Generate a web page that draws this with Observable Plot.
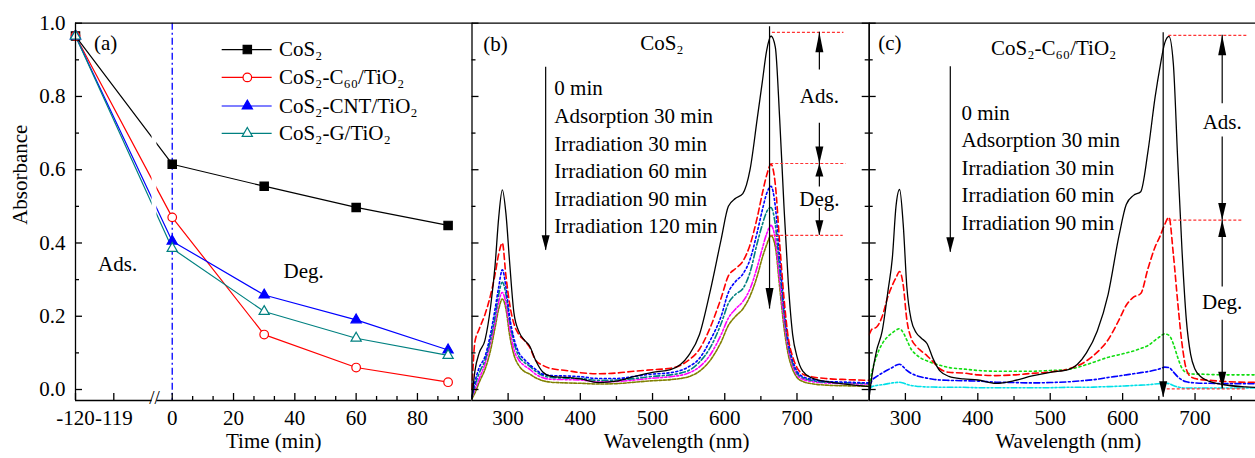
<!DOCTYPE html>
<html>
<head>
<meta charset="utf-8">
<script src="https://cdn.jsdelivr.net/npm/d3@7"></script>
<script src="https://cdn.jsdelivr.net/npm/@observablehq/plot@0.6"></script>
<style>
  html, body { margin: 0; padding: 0; background: #fff; overflow: hidden; }
  #wrap { position: relative; width: 1255px; height: 458px; background: #fff; }
  #wrap svg { position: absolute; left: 0; top: 0; }
</style>
</head>
<body>
<div id="wrap"></div>
<script>
// ---------------- DATA ----------------
// Panel (a): absorbance vs time
const times = [-120, 0, 30, 60, 90];
const aCoS2 = [0.965, 0.615, 0.555, 0.497, 0.448];
const aC60  = [0.965, 0.47, 0.15, 0.06, 0.02];
const aCNT  = [0.965, 0.405, 0.258, 0.19, 0.108];
const aG    = [0.965, 0.385, 0.213, 0.14, 0.093];
const aNames = ["CoS₂", "CoS₂-C₆₀/TiO₂", "CoS₂-CNT/TiO₂", "CoS₂-G/TiO₂"];
const aTicksMajor = [-120, -119, 0, 20, 40, 60, 80];
const aTicksMinor = [6.667, 13.333, 26.667, 33.333, 46.667, 53.333, 66.667, 73.333, 86.667, 93.333];
const breakFrom = -118, breakTo = -5;

// Panels (b), (c): spectra
const wl = [250, 254, 260, 268, 276, 282, 287, 292, 297, 302, 308, 315, 322, 330, 338, 348, 360, 380, 400, 425,
            450, 475, 500, 525, 550, 565, 580, 595, 605, 615, 625, 635, 645, 652, 658, 664, 670, 676, 682, 688,
            694, 700, 708, 720, 740, 770, 800];
const bBlack = [-0.025, 0.05, 0.10, 0.135, 0.23, 0.34, 0.47, 0.545, 0.48, 0.35,
                0.21, 0.158, 0.136, 0.118, 0.08, 0.048, 0.036, 0.033, 0.029, 0.019,
                0.023, 0.036, 0.047, 0.054, 0.093, 0.15, 0.27, 0.41, 0.50, 0.522,
                0.535, 0.6, 0.74, 0.84, 0.925, 0.965, 0.935, 0.74, 0.50, 0.29,
                0.15, 0.09, 0.05, 0.032, 0.022, 0.014, 0.008];
const bRed = [0.0, 0.13, 0.165, 0.205, 0.26, 0.315, 0.37, 0.40, 0.31, 0.235,
              0.18, 0.15, 0.135, 0.115, 0.08, 0.066, 0.057, 0.052, 0.046, 0.043,
              0.045, 0.05, 0.054, 0.058, 0.08, 0.11, 0.17, 0.25, 0.31, 0.33,
              0.35, 0.395, 0.47, 0.535, 0.585, 0.615, 0.56, 0.40, 0.25, 0.14,
              0.09, 0.06, 0.042, 0.035, 0.03, 0.027, 0.025];
const bBlue = [-0.02, 0.02, 0.06, 0.09, 0.155, 0.22, 0.28, 0.327, 0.28, 0.20,
               0.14, 0.10, 0.083, 0.068, 0.055, 0.042, 0.038, 0.037, 0.035, 0.03,
               0.03, 0.036, 0.042, 0.046, 0.062, 0.085, 0.135, 0.20, 0.265, 0.295,
               0.315, 0.355, 0.43, 0.49, 0.535, 0.555, 0.50, 0.36, 0.23, 0.13,
               0.08, 0.05, 0.035, 0.028, 0.022, 0.02, 0.018];
const bTeal = [-0.02, 0.01, 0.045, 0.08, 0.14, 0.2, 0.26, 0.293, 0.26, 0.19,
               0.13, 0.09, 0.075, 0.063, 0.05, 0.038, 0.033, 0.031, 0.03, 0.025,
               0.026, 0.03, 0.036, 0.04, 0.052, 0.075, 0.115, 0.18, 0.235, 0.26,
               0.275, 0.32, 0.40, 0.45, 0.485, 0.497, 0.45, 0.33, 0.21, 0.12,
               0.072, 0.045, 0.032, 0.025, 0.02, 0.018, 0.016];
const bMagenta = [-0.02, 0.0, 0.03, 0.07, 0.13, 0.185, 0.24, 0.265, 0.235, 0.17,
                  0.11, 0.08, 0.066, 0.055, 0.042, 0.032, 0.028, 0.027, 0.026, 0.021,
                  0.022, 0.026, 0.031, 0.035, 0.045, 0.062, 0.095, 0.15, 0.195, 0.22,
                  0.24, 0.275, 0.335, 0.385, 0.425, 0.448, 0.41, 0.30, 0.19, 0.11,
                  0.065, 0.04, 0.028, 0.022, 0.018, 0.016, 0.015];
const bOlive = [-0.025, -0.01, 0.02, 0.055, 0.11, 0.17, 0.22, 0.247, 0.22, 0.15,
                0.095, 0.065, 0.05, 0.042, 0.032, 0.024, 0.02, 0.018, 0.017, 0.015,
                0.016, 0.02, 0.024, 0.027, 0.035, 0.05, 0.08, 0.13, 0.175, 0.2,
                0.22, 0.255, 0.31, 0.36, 0.395, 0.42, 0.39, 0.28, 0.17, 0.095,
                0.055, 0.033, 0.022, 0.016, 0.012, 0.01, 0.009];
const cBlack = [-0.02, 0.04, 0.105, 0.16, 0.27, 0.36, 0.5, 0.546, 0.45, 0.28,
                0.19, 0.155, 0.14, 0.125, 0.085, 0.05, 0.036, 0.029, 0.026, 0.017,
                0.024, 0.037, 0.047, 0.054, 0.1, 0.16, 0.26, 0.42, 0.505, 0.53,
                0.54, 0.65, 0.8, 0.885, 0.945, 0.964, 0.89, 0.63, 0.38, 0.19,
                0.095, 0.055, 0.035, 0.022, 0.013, 0.007, 0.005];
const cRed = [0.15, 0.165, 0.17, 0.2, 0.255, 0.285, 0.305, 0.322, 0.285, 0.19,
              0.14, 0.118, 0.105, 0.092, 0.076, 0.056, 0.047, 0.045, 0.04, 0.038,
              0.04, 0.044, 0.048, 0.056, 0.078, 0.102, 0.136, 0.19, 0.23, 0.252,
              0.262, 0.33, 0.39, 0.42, 0.45, 0.47, 0.37, 0.24, 0.125, 0.055,
              0.035, 0.03, 0.027, 0.025, 0.022, 0.02, 0.02];
const cGreen = [0.01, 0.05, 0.09, 0.125, 0.145, 0.155, 0.162, 0.166, 0.155, 0.135,
                0.11, 0.095, 0.085, 0.078, 0.072, 0.066, 0.06, 0.056, 0.052, 0.05,
                0.05, 0.05, 0.052, 0.055, 0.068, 0.078, 0.088, 0.095, 0.1, 0.105,
                0.112, 0.12, 0.135, 0.145, 0.152, 0.148, 0.125, 0.088, 0.058, 0.046,
                0.043, 0.042, 0.042, 0.041, 0.04, 0.04, 0.04];
const cBlue = [-0.005, 0.025, 0.035, 0.045, 0.054, 0.06, 0.066, 0.069, 0.062, 0.052,
               0.044, 0.038, 0.034, 0.031, 0.028, 0.026, 0.025, 0.024, 0.023, 0.02,
               0.019, 0.018, 0.019, 0.021, 0.025, 0.028, 0.033, 0.037, 0.04, 0.043,
               0.046, 0.049, 0.053, 0.057, 0.061, 0.06, 0.048, 0.035, 0.026, 0.021,
               0.019, 0.018, 0.017, 0.017, 0.016, 0.016, 0.016];
const cCyan = [0.0, 0.008, 0.011, 0.013, 0.016, 0.018, 0.019, 0.02, 0.018, 0.014,
               0.011, 0.009, 0.008, 0.007, 0.007, 0.006, 0.006, 0.006, 0.005, 0.005,
               0.005, 0.005, 0.005, 0.006, 0.006, 0.007, 0.008, 0.009, 0.01, 0.011,
               0.012, 0.013, 0.015, 0.016, 0.017, 0.016, 0.011, 0.007, 0.005, 0.004,
               0.004, 0.004, 0.004, 0.004, 0.004, 0.004, 0.004];
const bLabels = ["0 min", "Adsorption 30 min", "Irradiation 30 min", "Irradiation 60 min", "Irradiation 90 min", "Irradiation 120 min"];
const cLabels = ["0 min", "Adsorption 30 min", "Irradiation 30 min", "Irradiation 60 min", "Irradiation 90 min"];
const wlMajor = [300, 400, 500, 600, 700];
const wlMinor = [350, 450, 550, 650, 750];
const yMajor = [0, 0.2, 0.4, 0.6, 0.8, 1.0];
const yMinor = [0.1, 0.3, 0.5, 0.7, 0.9];
// annotation levels (absorbance at the marked peaks)
const bLevels = [0.975, 0.617, 0.421];
const cLevels = [0.967, 0.4626, 0.002];

// ---------------- STYLE ----------------
const FONT = "'Liberation Serif', 'Times New Roman', Times, serif";
const baseStyle = {fontFamily: FONT, fontSize: "21px", background: "transparent", overflow: "visible", color: "black"};
const yDom = [-0.03, 1.0];
const AX = 1.3;
const H = 458, MT = 22.7, MB = 58;
const FH = H - MT - MB; // frame height in px
const yPerPx = (yDom[1] - yDom[0]) / FH;
const fmtA = d => d < 0 ? "-" + Math.abs(d) : String(d);

const headUp = (w, h) => ({draw(ctx) { ctx.moveTo(0, 0); ctx.lineTo(w / 2, h); ctx.lineTo(-w / 2, h); ctx.closePath(); }});
const headDown = (w, h) => ({draw(ctx) { ctx.moveTo(0, 0); ctx.lineTo(w / 2, -h); ctx.lineTo(-w / 2, -h); ctx.closePath(); }});

function arrow(x, yFrom, yTip, w = 8, h = 16) {
  return [
    Plot.ruleX([{x, y1: yFrom, y2: yTip}], {x: "x", y1: "y1", y2: "y2", stroke: "black", strokeWidth: 1.2}),
    Plot.dot([{x, y: yTip}], {x: "x", y: "y", symbol: yTip < yFrom ? headDown(w, h) : headUp(w, h), fill: "black", stroke: "none"})
  ];
}
// inward ticks as short rules; xLeft/xRight frame edges, xPerPx converts pixel length
function ticks(xMaj, xMin, xLeft, xRight, xPerPx, right) {
  const bx = (vals, len) => Plot.ruleX(vals.map(v => ({x: v, y1: yDom[0], y2: yDom[0] + len * yPerPx})), {x: "x", y1: "y1", y2: "y2", strokeWidth: AX});
  const ly = (vals, len) => Plot.ruleY(vals.map(v => ({y: v, x1: xLeft, x2: xLeft + len * xPerPx})), {y: "y", x1: "x1", x2: "x2", strokeWidth: AX});
  const ry = (vals, len) => Plot.ruleY(vals.map(v => ({y: v, x1: xRight - len * xPerPx, x2: xRight})), {y: "y", x1: "x1", x2: "x2", strokeWidth: AX});
  const m = [bx(xMaj, 7), bx(xMin, 4), ly(yMajor, 7), ly(yMinor, 4)];
  if (right) m.push(ry(yMajor, 7), ry(yMinor, 4));
  return m;
}

const wrap = document.getElementById("wrap");

// ---------------- PANEL (a) ----------------
const aSeries = [
  {name: aNames[0], values: aCoS2, color: "#000000", symbol: "square", fill: "#000000", r: 4.7},
  {name: aNames[1], values: aC60,  color: "#ff0000", symbol: "circle", fill: "white", r: 4.3},
  {name: aNames[2], values: aCNT,  color: "#0000ff", symbol: "triangle", fill: "#0000ff", r: 3.8},
  {name: aNames[3], values: aG,    color: "#008080", symbol: "triangle", fill: "white", r: 3.8}
];
const legendY = [0.928, 0.852, 0.774, 0.699];
const aMarks = [];
aSeries.forEach(s => {
  const pts = times.map((t, i) => ({t, v: s.values[i]}));
  aMarks.push(Plot.line(pts, {x: "t", y: "v", stroke: s.color, strokeWidth: 1.2}));
});
// axis break gap in the lines
aMarks.push(Plot.rect([{x1: breakFrom, x2: breakTo, y1: 0.3, y2: 0.85}], {x1: "x1", x2: "x2", y1: "y1", y2: "y2", fill: "white"}));
aMarks.push(Plot.ruleX([0], {stroke: "#0000ff", strokeWidth: 1.3, strokeDasharray: "7,3,2,3"}));
aSeries.forEach(s => {
  const pts = times.map((t, i) => ({t, v: s.values[i]}));
  aMarks.push(Plot.dot(pts, {x: "t", y: "v", symbol: s.symbol, r: s.r, fill: s.fill, stroke: s.color, strokeWidth: 1.2}));
});
// legend
const legend = aSeries.map((s, i) => ({...s, ly: legendY[i]}));
aMarks.push(Plot.ruleY(legend, {y: "ly", x1: 16.3, x2: 32.6, stroke: "color", strokeWidth: 1.2}));
legend.forEach(s => {
  aMarks.push(Plot.dot([s], {x: () => 24.5, y: "ly", symbol: s.symbol, r: s.r, fill: s.fill, stroke: s.color, strokeWidth: 1.2}));
});
aMarks.push(Plot.text(legend, {x: () => 34.8, y: "ly", text: "name", textAnchor: "start"}));
// frame (broken bottom axis)
aMarks.push(Plot.ruleY([1.0], {strokeWidth: AX}));
aMarks.push(Plot.ruleX([-120], {strokeWidth: AX}));
aMarks.push(Plot.ruleY([{y: -0.03, x1: -120, x2: breakFrom}, {y: -0.03, x1: breakTo, x2: 97.8}], {y: "y", x1: "x1", x2: "x2", strokeWidth: AX}));
aMarks.push(Plot.text([{x: (breakFrom + breakTo) / 2}], {x: "x", frameAnchor: "bottom", text: () => "//", fontSize: 19, dy: 3}));
// ticks (left segment of the broken axis: 38.3 px per minute)
aMarks.push(...ticks(aTicksMajor, aTicksMinor, -120, null, 1 / 38.3, false));
aMarks.push(Plot.axisX(aTicksMajor, {anchor: "bottom", tickSize: 0, tickPadding: 10, tickFormat: fmtA, label: null}));
aMarks.push(Plot.axisY(yMajor, {anchor: "left", tickSize: 0, tickPadding: 10, tickFormat: d3.format(".1f"), label: null}));
// titles & notes
aMarks.push(Plot.text(["Absorbance"], {frameAnchor: "left", rotate: -90, dx: -55, dy: 13}));
aMarks.push(Plot.text(["Time (min)"], {frameAnchor: "bottom", dy: 47}));
aMarks.push(Plot.text([{x: -119.52, y: 0.946, t: "(a)"}], {x: "x", y: "y", text: "t", textAnchor: "start"}));
aMarks.push(Plot.text([{x: -118.9, y: 0.3415, t: "Ads."}, {x: 42.9, y: 0.323, t: "Deg."}], {x: "x", y: "y", text: "t"}));

const plotA = Plot.plot({
  width: 1255, height: H, marginTop: MT, marginBottom: MB, marginLeft: 75, marginRight: 783.5,
  style: baseStyle,
  x: {type: "linear", domain: [-120, breakFrom, breakTo, 97.8], range: [75, 151.6, 156.4, 471.5]},
  y: {domain: yDom},
  marks: aMarks
});
wrap.appendChild(plotA);

// ---------------- PANEL (b) ----------------
const bSeries = [
  {values: bOlive,   color: "#808000", dash: "3,1.5"},
  {values: bMagenta, color: "#ff00ff", dash: "6,2,2,2,2,2"},
  {values: bTeal,    color: "#008080", dash: "6,2.5,2,2.5"},
  {values: bBlue,    color: "#0000ff", dash: "2,2.5"},
  {values: bRed,     color: "#ff0000", dash: "6,3.5"},
  {values: bBlack,   color: "#000000", dash: null}
];
const bMarks = [];
bSeries.forEach(s => {
  const pts = wl.map((w, i) => ({w, v: s.values[i]}));
  bMarks.push(Plot.line(pts, {x: "w", y: "v", stroke: s.color, strokeWidth: s.dash ? 1.6 : 1.3, strokeDasharray: s.dash, curve: "monotone-x"}));
});
// frame
bMarks.push(Plot.ruleY([1.0, -0.03], {strokeWidth: AX}));
bMarks.push(Plot.ruleX([250, 800], {strokeWidth: AX}));
bMarks.push(...ticks(wlMajor, wlMinor, 250, 800, 550 / 397.2, true));
bMarks.push(Plot.axisX(wlMajor, {anchor: "bottom", tickSize: 0, tickPadding: 10, label: null}));
bMarks.push(Plot.text(["Wavelength (nm)"], {frameAnchor: "bottom", dy: 47, dx: 6}));
// annotations
bMarks.push(Plot.text([{x: 265.5, y: 0.943, t: "(b)"}], {x: "x", y: "y", text: "t", textAnchor: "start"}));
bMarks.push(Plot.text([{x: 513, y: 0.944, t: "CoS₂"}], {x: "x", y: "y", text: "t"}));
bMarks.push(Plot.text([bLabels.join("\n")], {x: () => 364, y: () => 0.639, textAnchor: "start", lineHeight: 1.31}));
bMarks.push(...arrow(352, 0.88, 0.38, 8, 15));
bMarks.push(Plot.ruleY([{y: bLevels[0], x1: 666, x2: 765}, {y: bLevels[1], x1: 663.7, x2: 768}, {y: bLevels[2], x1: 663.7, x2: 764}],
  {y: "y", x1: "x1", x2: "x2", stroke: "#ff3333", strokeWidth: 1.2, strokeDasharray: "3,2"}));
bMarks.push(...arrow(662, 0.99, 0.22, 8, 21));
bMarks.push(...arrow(731, 0.872, bLevels[0], 8, 20));
bMarks.push(...arrow(731, 0.727, bLevels[1], 8, 17));
bMarks.push(...arrow(731, 0.553, bLevels[1], 8, 13));
bMarks.push(...arrow(731, 0.494, bLevels[2], 8, 15));
bMarks.push(Plot.text([{x: 731, y: 0.80, t: "Ads."}, {x: 731, y: 0.52, t: "Deg."}], {x: "x", y: "y", text: "t"}));

const plotB = Plot.plot({
  width: 1255, height: H, marginTop: MT, marginBottom: MB, marginLeft: 471.5, marginRight: 386.3,
  style: baseStyle,
  x: {domain: [250, 800], axis: null},
  y: {domain: yDom, axis: null},
  marks: bMarks
});
wrap.appendChild(plotB);

// ---------------- PANEL (c) ----------------
const cSeries = [
  {values: cCyan,  color: "#00e0e8", dash: "6,2,2,2,2,2"},
  {values: cBlue,  color: "#0000ff", dash: "6,2.5,2,2.5"},
  {values: cGreen, color: "#10dd10", dash: "2,3"},
  {values: cRed,   color: "#ff0000", dash: "6,3.5"},
  {values: cBlack, color: "#000000", dash: null}
];
const cMarks = [];
cSeries.forEach(s => {
  const pts = wl.map((w, i) => ({w, v: s.values[i]}));
  cMarks.push(Plot.line(pts, {x: "w", y: "v", stroke: s.color, strokeWidth: s.dash ? 1.6 : 1.3, strokeDasharray: s.dash, curve: "monotone-x", clip: true}));
});
cMarks.push(Plot.ruleY([1.0, -0.03], {strokeWidth: AX}));
cMarks.push(Plot.ruleX([250], {strokeWidth: AX}));
cMarks.push(...ticks(wlMajor, wlMinor, 250, null, 533.5 / 386.3, false));
cMarks.push(Plot.axisX(wlMajor, {anchor: "bottom", tickSize: 0, tickPadding: 10, label: null}));
cMarks.push(Plot.text(["Wavelength (nm)"], {frameAnchor: "bottom", dy: 47, dx: 6}));
cMarks.push(Plot.text([{x: 262.4, y: 0.944, t: "(c)"}], {x: "x", y: "y", text: "t", textAnchor: "start"}));
cMarks.push(Plot.text([{x: 504.8, y: 0.931, t: "CoS₂-C₆₀/TiO₂"}], {x: "x", y: "y", text: "t"}));
cMarks.push(Plot.text([cLabels.join("\n")], {x: () => 377.4, y: () => 0.61, textAnchor: "start", lineHeight: 1.31}));
cMarks.push(...arrow(362, 0.881, 0.375, 8, 15));
cMarks.push(Plot.ruleY([{y: cLevels[0], x1: 663.8, x2: 772}, {y: cLevels[1], x1: 663.8, x2: 765}, {y: cLevels[2], x1: 661.6, x2: 770}],
  {y: "y", x1: "x1", x2: "x2", stroke: "#ff3333", strokeWidth: 1.2, strokeDasharray: "3,2"}));
cMarks.push(...arrow(656, 0.974, -0.021, 8, 16));
cMarks.push(...arrow(737.5, 0.78, cLevels[0], 8, 20));
cMarks.push(...arrow(737.5, 0.689, cLevels[1], 8, 17));
cMarks.push(...arrow(737.5, 0.28, cLevels[1], 8, 17));
cMarks.push(...arrow(737.5, 0.189, cLevels[2], 8, 17));
cMarks.push(Plot.text([{x: 737.5, y: 0.73, t: "Ads."}, {x: 737.5, y: 0.238, t: "Deg."}], {x: "x", y: "y", text: "t"}));

const plotC = Plot.plot({
  width: 1255, height: H, marginTop: MT, marginBottom: MB, marginLeft: 868.7, marginRight: 0,
  style: baseStyle,
  x: {domain: [250, 783.5], axis: null},
  y: {domain: yDom, axis: null},
  marks: cMarks
});
wrap.appendChild(plotC);
</script>
</body>
</html>
